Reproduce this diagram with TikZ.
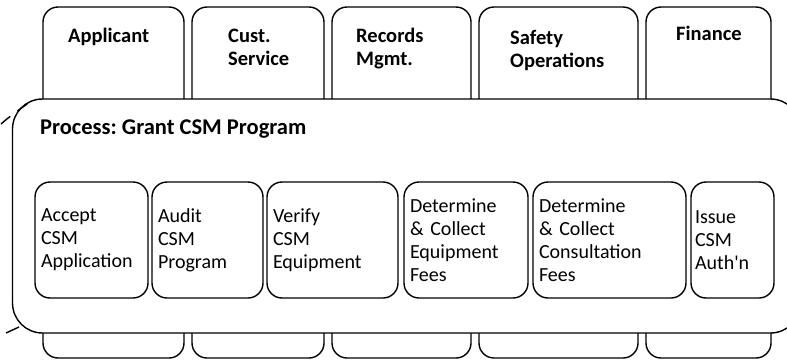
\documentclass[tikz,border=0pt]{standalone}
\usepackage{fontspec}
\setmainfont{Carlito}[Ligatures=TeXOff]
\usetikzlibrary{positioning}
\frenchspacing

\begin{document}
\begin{tikzpicture}[x=1pt, y=1pt, node distance=8pt, every node/.style={font=\fontsize{20}{23}\selectfont, align=left},
  lane/.style={draw, line width=1.4pt, rounded corners=15pt, minimum height=351pt, inner sep=0pt, outer sep=0pt},
  lanelabel/.style={font=\fontsize{20.5}{23}\selectfont\bfseries, inner sep=0pt, anchor=base west},
  procbox/.style={draw, line width=1.4pt, fill=white, rounded corners=30pt, inner sep=0pt, outer sep=0pt},
  stepbox/.style={draw, line width=1.4pt, rounded corners=15pt, minimum height=116pt, inner xsep=6pt, inner ysep=0pt, outer sep=0pt}]
  \useasboundingbox (0,0) rectangle (787,-360);
  \clip (0,0) rectangle (787,-360);

  \node[lane, minimum width=141pt, anchor=north west] (applicant) at (43,-7) {};
  \node[lane, minimum width=132pt, right=of applicant] (custsvc) {};
  \node[lane, minimum width=139pt, right=of custsvc] (records) {};
  \node[lane, minimum width=159pt, right=of records] (safety) {};
  \node[lane, minimum width=125pt, right=of safety] (finance) {};

  \node[lanelabel] (applicantlbl) at ([xshift=25pt, yshift=-35pt]applicant.north west) {Applicant};
  \node[lanelabel] (custsvclbl) at ([xshift=36pt, yshift=-58pt]custsvc.north west) {Cust.\\Service};
  \node[lanelabel] (recordslbl) at ([xshift=24pt, yshift=-58pt]records.north west) {Records\\Mgmt.};
  \node[lanelabel] (safetylbl) at ([xshift=31pt, yshift=-60pt]safety.north west) {Safety\\Operations};
  \node[lanelabel] (financelbl) at ([xshift=30pt, yshift=-33pt]finance.north west) {Finance};

  \node[procbox, minimum width=788pt, minimum height=234pt, anchor=north west] (process) at (12.5,-99) {};
  \node[lanelabel, font=\fontsize{22.5}{23}\selectfont\bfseries] (processlbl) at ([xshift=27.5pt, yshift=-35pt]process.north west) {Process: Grant CSM Program};

  \draw[line width=1.4pt, dash pattern=on 12pt off 9pt] (1,-124) .. controls (10,-116) and (20,-109) .. (30,-102);
  \draw[line width=1.4pt] (6,-333) -- (19,-327);

  \node[stepbox, text width=101pt, anchor=north west] (accept) at (35,-182) {Accept\\CSM\\Application};
  \node[stepbox, text width=99pt, right=4pt of accept] (audit) {Audit\\CSM\\Program};
  \node[stepbox, text width=119pt, right=4pt of audit] (verify) {Verify\\CSM\\Equipment};
  \node[stepbox, text width=112pt, right=6pt of verify] (equipfees) {Determine\\\& Collect\\Equipment\\Fees};
  \node[stepbox, text width=141pt, right=5pt of equipfees] (consultfees) {Determine\\\& Collect\\Consultation\\Fees};
  \node[stepbox, text width=75pt, inner xsep=4pt, right=5pt of consultfees] (issue) {Issue\\CSM\\Auth'n};
\end{tikzpicture}
\end{document}
